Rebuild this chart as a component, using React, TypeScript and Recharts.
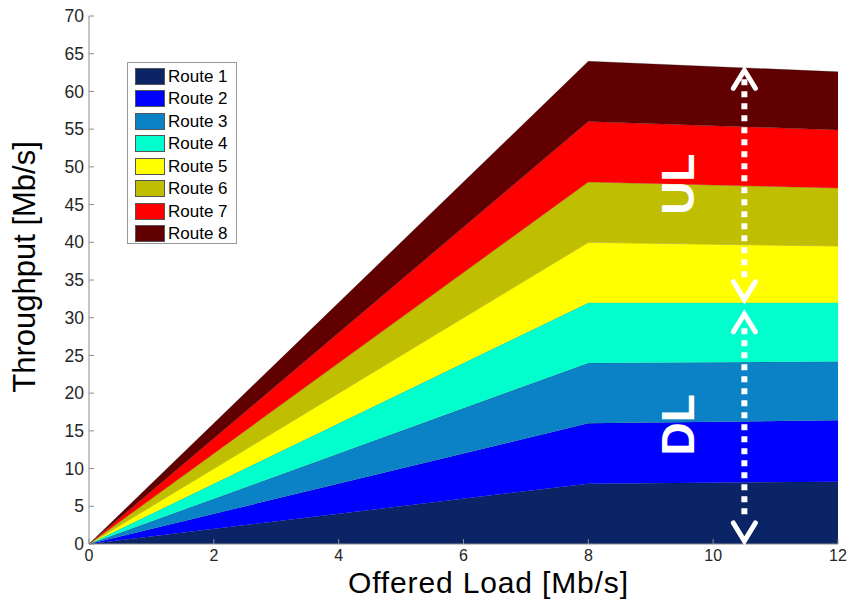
import React from 'react';
import { AreaChart, Area, XAxis, YAxis, Legend, ReferenceLine, ReferenceDot, Label } from 'recharts';

const offeredLoad = [0, 8, 12];
const route1 = [0, 8, 8.25];
const route2 = [0, 8, 8.15];
const route3 = [0, 8, 7.8];
const route4 = [0, 8, 7.8];
const route5 = [0, 8, 7.5];
const route6 = [0, 8, 7.7];
const route7 = [0, 8, 7.7];
const route8 = [0, 8, 7.7];

const routeNames = ['Route 1', 'Route 2', 'Route 3', 'Route 4', 'Route 5', 'Route 6', 'Route 7', 'Route 8'];
const routeSeries = [route1, route2, route3, route4, route5, route6, route7, route8];
const routeColors = ['#0a2466', '#0000ff', '#0b82c6', '#00ffcc', '#ffff00', '#c0be00', '#ff0000', '#600000'];

const xTicks = [0, 2, 4, 6, 8, 10, 12];
const yTicks = [0, 5, 10, 15, 20, 25, 30, 35, 40, 45, 50, 55, 60, 65, 70];

// annotation values (data coordinates)
const arrowX = 10.5;
const ulTop = 63.2;
const ulDlSplit = 32;
const dlUpTip = 30.9;
const dlBottom = 0;
const upperDots = [61.6, 34.6];
const lowerDots = [28.6, 3.2];
const textX = 9.44;
const ulTextY = 47.7;
const dlTextY = 15.8;

const data = offeredLoad.map((x, i) => {
  const row: Record<string, number> = { x };
  routeNames.forEach((n, k) => {
    row[n] = routeSeries[k][i];
  });
  return row;
});

const FONT = 'Arial, "Liberation Sans", sans-serif';

const chevron = (dir: 'up' | 'down') => (props: any) => {
  const { cx, cy } = props;
  const s = dir === 'up' ? 1 : -1;
  const d = `M ${cx - 11} ${cy + s * 21} L ${cx} ${cy + s * 3} L ${cx + 11} ${cy + s * 21}`;
  return <path d={d} fill="none" stroke="#fff" strokeWidth={5} strokeLinecap="round" strokeLinejoin="miter" />;
};

const bigText = (label: string) => (props: any) => {
  const { cx, cy } = props;
  return (
    <text
      x={cx}
      y={cy}
      transform={`rotate(-90 ${cx} ${cy})`}
      textAnchor="middle"
      dominantBaseline="central"
      fill="#fff"
      fontWeight="bold"
      fontSize={46}
      fontFamily={FONT}
    >
      {label}
    </text>
  );
};

const LegendBox = () => (
  <div
    style={{
      width: 110,
      height: 182,
      boxSizing: 'border-box',
      border: '1px solid #9a9a9a',
      background: '#fff',
      paddingTop: 2,
      paddingLeft: 7,
      fontFamily: FONT,
      fontSize: 17,
      color: '#000',
    }}
  >
    {routeNames.map((n, i) => (
      <div key={n} style={{ display: 'flex', alignItems: 'center', height: 22.5 }}>
        <div
          style={{
            width: 30,
            height: 17,
            boxSizing: 'border-box',
            background: routeColors[i],
            border: '1px solid #555',
            marginRight: 3,
          }}
        />
        <span style={{ lineHeight: '17px' }}>{n}</span>
      </div>
    ))}
  </div>
);

const xTickStyle = { fontFamily: FONT, fontSize: 16, fill: '#262626' };
const yTickStyle = { fontFamily: FONT, fontSize: 17.5, fill: '#262626' };
const axisColor = '#8c8c8c';

export default function App() {
  return (
    <div style={{ position: 'absolute', left: 0, top: 0, width: 850, height: 600, background: '#fff' }}>
      <AreaChart width={850} height={600} data={data} margin={{ top: 16, right: 12, bottom: 0, left: 0 }}>
        <XAxis
          dataKey="x"
          type="number"
          domain={[0, 12]}
          ticks={xTicks}
          height={56}
          tick={xTickStyle}
          tickSize={-5}
          tickMargin={11}
          stroke={axisColor}
          interval={0}
        >
          <Label
            content={() => (
              <text
                x={488}
                y={593}
                textAnchor="middle"
                fontFamily={FONT}
                fontSize={30}
                textLength={280}
                lengthAdjust="spacing"
                fill="#000"
              >
                Offered Load [Mb/s]
              </text>
            )}
          />
        </XAxis>
        <XAxis
          xAxisId="top"
          orientation="top"
          type="number"
          domain={[0, 12]}
          ticks={xTicks}
          height={0}
          tick={() => <g />}
          tickSize={-5}
          stroke={axisColor}
          interval={0}
        />
        <YAxis
          type="number"
          domain={[0, 70]}
          ticks={yTicks}
          width={89}
          tick={yTickStyle}
          tickSize={-5}
          tickMargin={10}
          stroke={axisColor}
          interval={0}
        >
          <Label
            content={() => {
              const cx = 35;
              const cy = 267;
              return (
                <text
                  x={cx}
                  y={cy}
                  transform={`rotate(-90 ${cx} ${cy})`}
                  textAnchor="middle"
                  fontFamily={FONT}
                  fontSize={31}
                  fill="#000"
                >
                  Throughput [Mb/s]
                </text>
              );
            }}
          />
        </YAxis>
        <YAxis
          yAxisId="right"
          orientation="right"
          type="number"
          domain={[0, 70]}
          ticks={yTicks}
          width={0}
          tick={() => <g />}
          tickSize={-5}
          stroke={axisColor}
          interval={0}
        />
        {routeNames.map((n, i) => (
          <Area
            key={n}
            type="linear"
            dataKey={n}
            stackId="routes"
            fill={routeColors[i]}
            fillOpacity={1}
            stroke="#000"
            strokeOpacity={0.3}
            strokeWidth={0.8}
            isAnimationActive={false}
            dot={false}
            activeDot={false}
          />
        ))}
        <Legend
          layout="vertical"
          align="center"
          verticalAlign="middle"
          content={() => <LegendBox />}
          wrapperStyle={{ position: 'absolute', left: 127, top: 62, width: 110, height: 182 }}
        />
        <ReferenceLine
          segment={[{ x: arrowX, y: upperDots[0] }, { x: arrowX, y: upperDots[1] }]}
          stroke="#fff"
          strokeWidth={6}
          strokeDasharray="6 6"
        />
        <ReferenceLine
          segment={[{ x: arrowX, y: lowerDots[0] }, { x: arrowX, y: lowerDots[1] }]}
          stroke="#fff"
          strokeWidth={6}
          strokeDasharray="6 6"
        />
        <ReferenceDot x={arrowX} y={ulTop} r={1} shape={chevron('up')} />
        <ReferenceDot x={arrowX} y={ulDlSplit} r={1} shape={chevron('down')} />
        <ReferenceDot x={arrowX} y={dlUpTip} r={1} shape={chevron('up')} />
        <ReferenceDot x={arrowX} y={dlBottom} r={1} shape={chevron('down')} />
        <ReferenceDot x={textX} y={ulTextY} r={1} shape={bigText('UL')} />
        <ReferenceDot x={textX} y={dlTextY} r={1} shape={bigText('DL')} />
      </AreaChart>
    </div>
  );
}
